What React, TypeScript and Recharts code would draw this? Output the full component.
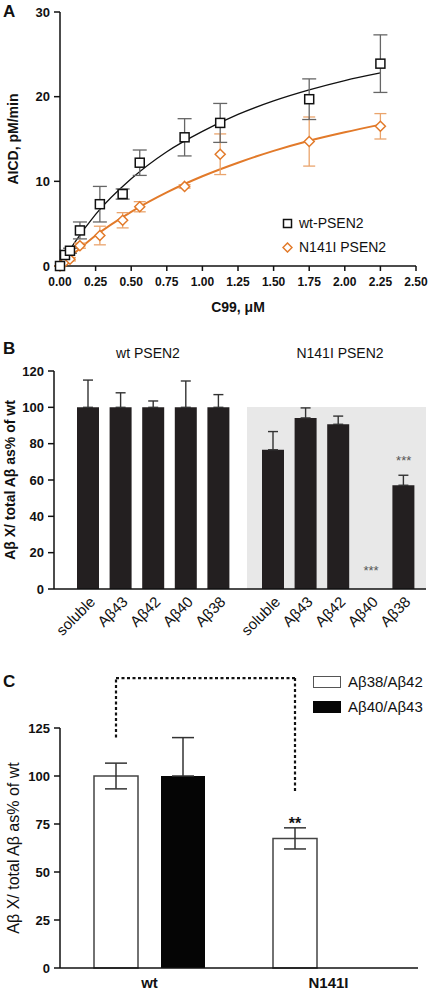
import React from 'react';
import {
  ComposedChart, Scatter, Line, Bar, XAxis, YAxis, ErrorBar, Legend,
  ReferenceLine, ReferenceDot, CartesianGrid,
} from 'recharts';

const FONT = '"Liberation Sans", Arial, Helvetica, sans-serif';
const INK = '#111';
const ORANGE = '#e27a2a';
const ORANGE_LIGHT = '#eaa46c';

// ---------- Panel A: AICD production vs C99 ----------
const c99 = [0, 0.035, 0.07, 0.14, 0.28, 0.44, 0.56, 0.875, 1.125, 1.75, 2.25];
const wtMean = [0, 1.3, 1.8, 4.2, 7.3, 8.5, 12.2, 15.2, 16.9, 19.7, 23.9];
const wtSem = [0, 0, 0.3, 1.0, 2.1, 0.6, 1.5, 2.2, 2.3, 2.4, 3.4];
const mutMean = [0, 0.5, 0.8, 2.4, 3.6, 5.4, 7.0, 9.4, 13.2, 14.7, 16.5];
const mutSem = [0, 0, 0.2, 0.3, 1.1, 0.9, 0.6, 0.2, 2.4, 2.9, 1.5];
const fitX = [0, 0.05, 0.1, 0.25, 0.5, 0.75, 1.0, 1.25, 1.5, 1.75, 2.0, 2.25];
const wtFit = [0, 1.4, 2.7, 6.1, 10.3, 13.5, 15.9, 17.9, 19.5, 20.8, 21.9, 22.8];
const mutFit = [0, 0.8, 1.5, 3.6, 6.4, 8.7, 10.6, 12.2, 13.6, 14.8, 15.8, 16.7];
const aXTicks = [0, 0.25, 0.5, 0.75, 1.0, 1.25, 1.5, 1.75, 2.0, 2.25, 2.5];
const aYTicks = [0, 10, 20, 30];
const aSeries = ['wt-PSEN2', 'N141I PSEN2'];

// ---------- Panel B: Abeta species as % of wt ----------
const bCats = ['soluble', 'Aβ43', 'Aβ42', 'Aβ40', 'Aβ38'];
const bWtVals = [100, 100, 100, 100, 100];
const bWtErr = [15, 8, 3.5, 14.5, 7];
const bMutVals = [76.5, 94, 90.5, 0, 57];
const bMutErr = [10, 5.5, 4.5, null, 5.5];
const bYTicks = [0, 20, 40, 60, 80, 100, 120];
const bGroups = ['wt PSEN2', 'N141I PSEN2'];
const bSig = [
  { cat: 'Aβ40', y: 11.5, text: '***' },
  { cat: 'Aβ38', y: 72, text: '***' },
];

// ---------- Panel C: ratios ----------
const cCats = ['wt', 'N141I'];
const cRatioA = [100, 67.5];
const cRatioAErr = [6.7, 5.5];
const cRatioB = [100, null];
const cRatioBErr = [20, null];
const cSeries = ['Aβ38/Aβ42', 'Aβ40/Aβ43'];
const cYTicks = [0, 25, 50, 75, 100, 125];
// dashed bracket over the first series (Aβ38/Aβ42) of each group
const cBracket = [
  { x: 'wt', y: 120 },
  { x: 'wt', y: 151 },
  { x: 'N141I', y: 151 },
  { x: 'N141I', y: 91 },
];
const cSig = [{ x: 'N141I', y: 77, text: '**' }];

// bar layout for panel C
const C_BAR = 44;
const C_GAP = 23;
const C_FIRST_SHIFT = -(C_BAR + C_GAP) / 2; // centre of first bar relative to category centre

// derived tables
const wtPoints = c99.map((x, i) => ({ x, y: wtMean[i], e: wtSem[i] }));
const mutPoints = c99.map((x, i) => ({ x, y: mutMean[i], e: mutSem[i] }));
const wtFitData = fitX.map((x, i) => ({ x, y: wtFit[i] }));
const mutFitData = fitX.map((x, i) => ({ x, y: mutFit[i] }));
const bWtData = bCats.map((name, i) => ({ name, v: bWtVals[i], err: [0, bWtErr[i]] }));
const bMutData = bCats.map((name, i) => ({
  name,
  v: bMutVals[i],
  err: bMutErr[i] == null ? null : [0, bMutErr[i]],
}));
const cData = cCats.map((name, i) => ({
  name,
  a: cRatioA[i],
  aErr: cRatioAErr[i],
  b: cRatioB[i],
  bErr: cRatioBErr[i] == null ? null : [0, cRatioBErr[i]],
}));

const vTitle = (text: string, dx: number, fontSize: number, fontWeight: string) => ({
  content: (p: any) => {
    const vb = p.viewBox || { x: 0, y: 0, width: 0, height: 0 };
    const cx = vb.x + dx;
    const cy = vb.y + vb.height / 2;
    return (
      <text
        x={cx}
        y={cy}
        transform={`rotate(-90 ${cx} ${cy})`}
        textAnchor="middle"
        dominantBaseline="central"
        fontSize={fontSize}
        fontWeight={fontWeight}
        fontFamily={FONT}
        fill={INK}
      >
        {text}
      </text>
    );
  },
});

const squareShape = (p: any) => (
  <rect x={p.cx - 4.5} y={p.cy - 4.5} width={9} height={9} fill="#fff" stroke={INK} strokeWidth={1.5} />
);
const diamondShape = (p: any) => (
  <path
    d={`M${p.cx},${p.cy - 5} L${p.cx + 5},${p.cy} L${p.cx},${p.cy + 5} L${p.cx - 5},${p.cy} Z`}
    fill="#fff"
    stroke={ORANGE}
    strokeWidth={1.5}
  />
);

const legendA = (props: any) => {
  const items = (props.payload || [])
    .filter((p: any) => aSeries.includes(p.value))
    .sort((a: any, b: any) => aSeries.indexOf(a.value) - aSeries.indexOf(b.value));
  return (
    <div style={{ fontFamily: FONT }}>
      {items.map((p: any) => (
        <div key={p.value} style={{ display: 'flex', alignItems: 'center', height: 24 }}>
          <svg width={11} height={11} style={{ marginRight: 6 }}>
            {p.value === aSeries[0] ? (
              <rect x={1.5} y={1.5} width={8} height={8} fill="#fff" stroke={INK} strokeWidth={1.5} />
            ) : (
              <path d="M5.5,1 L10,5.5 L5.5,10 L1,5.5 Z" fill="#fff" stroke={ORANGE} strokeWidth={1.5} />
            )}
          </svg>
          <span style={{ fontSize: 14, color: INK, whiteSpace: 'nowrap' }}>{p.value}</span>
        </div>
      ))}
    </div>
  );
};

const legendC = (props: any) => (
  <div style={{ fontFamily: FONT }}>
    {(props.payload || []).map((p: any, i: number) => (
      <div key={p.value} style={{ display: 'flex', alignItems: 'center', height: 25 }}>
        <span
          style={{
            display: 'inline-block',
            width: 28,
            height: 12,
            boxSizing: 'border-box',
            background: i === 0 ? '#fff' : '#050505',
            border: i === 0 ? '1.5px solid #555' : '1.5px solid #050505',
          }}
        />
        <span style={{ marginLeft: 7, fontSize: 15, color: INK, whiteSpace: 'nowrap' }}>{p.value}</span>
      </div>
    ))}
  </div>
);

const RotTick = (props: any) => {
  const { x, y, payload } = props;
  return (
    <g transform={`translate(${x + 5},${y + 4})`}>
      <text
        textAnchor="end"
        transform="rotate(-45)"
        dominantBaseline="middle"
        fontSize={15}
        fontFamily={FONT}
        fill={INK}
      >
        {payload.value}
      </text>
    </g>
  );
};

const starShape = (text: string, size: number, color: string, base: number, weight: string, dx = 0) => (p: any) => (
  <text
    x={p.cx + dx}
    y={p.cy + base}
    textAnchor="middle"
    fontSize={size}
    fontFamily={FONT}
    fontWeight={weight}
    fill={color}
  >
    {text}
  </text>
);

const shiftedLine = (dx: number) => (p: any) => (
  <line
    x1={p.x1 + dx}
    y1={p.y1}
    x2={p.x2 + dx}
    y2={p.y2}
    stroke={INK}
    strokeWidth={2.2}
    strokeDasharray="3 2.5"
    fill="none"
  />
);

const panelLetter = (ch: string, top: number) => (
  <div
    style={{
      position: 'absolute',
      left: 3,
      top,
      fontSize: 17,
      lineHeight: '17px',
      fontWeight: 'bold',
      fontFamily: FONT,
      color: INK,
    }}
  >
    {ch}
  </div>
);

const axisStyle = { stroke: INK, strokeWidth: 1.5 };
const boldTick = (size: number) => ({ fontSize: size, fontWeight: 'bold', fill: INK, fontFamily: FONT });

export default function App() {
  return (
    <div style={{ position: 'absolute', left: 0, top: 0, width: 434, height: 999, background: '#fff', overflow: 'hidden' }}>
      {/* Panel A */}
      <div style={{ position: 'absolute', left: 0, top: 0 }}>
        <ComposedChart width={434} height={320} margin={{ top: 12, right: 18, bottom: 0, left: 0 }}>
          <XAxis
            type="number"
            dataKey="x"
            domain={[0, 2.5]}
            ticks={aXTicks}
            interval={0}
            tickFormatter={(v: number) => v.toFixed(2)}
            height={54}
            tickSize={5}
            tickMargin={6}
            axisLine={axisStyle}
            tickLine={axisStyle}
            tick={boldTick(12)}
            label={{ value: 'C99, μM', position: 'insideBottom', offset: 8, fontSize: 14, fontWeight: 'bold', fill: INK, fontFamily: FONT }}
          />
          <YAxis
            type="number"
            domain={[0, 30]}
            ticks={aYTicks}
            width={60}
            tickSize={6}
            tickMargin={4}
            axisLine={axisStyle}
            tickLine={axisStyle}
            tick={boldTick(13)}
            label={vTitle('AICD, pM/min', 13, 14, 'bold')}
          />
          <Line data={wtFitData} dataKey="y" type="monotone" stroke={INK} strokeWidth={1.3} dot={false} isAnimationActive={false} legendType="none" />
          <Line data={mutFitData} dataKey="y" type="monotone" stroke={ORANGE} strokeWidth={2} dot={false} isAnimationActive={false} legendType="none" />
          <Scatter data={mutPoints} dataKey="y" name={aSeries[1]} shape={diamondShape} isAnimationActive={false}>
            <ErrorBar dataKey="e" direction="y" width={6} stroke={ORANGE_LIGHT} strokeWidth={1.3} />
          </Scatter>
          <Scatter data={wtPoints} dataKey="y" name={aSeries[0]} shape={squareShape} isAnimationActive={false}>
            <ErrorBar dataKey="e" direction="y" width={7} stroke="#666" strokeWidth={1.3} />
          </Scatter>
          <Legend
            layout="horizontal"
            align="center"
            verticalAlign="middle"
            content={legendA}
            wrapperStyle={{ left: 282, top: 211, width: 'auto' }}
          />
        </ComposedChart>
      </div>
      {panelLetter('A', 3)}

      {/* Panel B */}
      <div style={{ position: 'absolute', left: 0, top: 320 }}>
        <ComposedChart width={247} height={320} data={bWtData} margin={{ top: 51, right: 0, bottom: 0, left: 0 }}>
          <XAxis
            dataKey="name"
            height={51}
            padding={{ left: 18, right: 12 }}
            interval={0}
            tickSize={5}
            axisLine={axisStyle}
            tickLine={false}
            tick={<RotTick />}
          />
          <YAxis
            domain={[0, 120]}
            ticks={bYTicks}
            width={54}
            tickSize={6}
            tickMargin={4}
            axisLine={axisStyle}
            tickLine={axisStyle}
            tick={boldTick(13)}
            label={vTitle('Aβ X/ total Aβ as% of wt', 10, 14, 'bold')}
          />
          <Bar dataKey="v" fill="#231f20" barSize={22} isAnimationActive={false}>
            <ErrorBar dataKey="err" width={5} stroke="#333" strokeWidth={1.4} />
          </Bar>
        </ComposedChart>
      </div>
      <div style={{ position: 'absolute', left: 200, top: 320 }}>
        <ComposedChart width={234} height={320} data={bMutData} margin={{ top: 87, right: 8, bottom: 0, left: 47 }}>
          <CartesianGrid fill="#e8e8e8" horizontal={false} vertical={false} stroke="none" />
          <XAxis
            dataKey="name"
            height={51}
            padding={{ left: 10, right: 6 }}
            interval={0}
            tickSize={5}
            axisLine={axisStyle}
            tickLine={false}
            tick={<RotTick />}
          />
          <YAxis hide domain={[0, 100]} />
          <Bar dataKey="v" fill="#231f20" barSize={22} isAnimationActive={false}>
            <ErrorBar dataKey="err" width={5} stroke="#333" strokeWidth={1.4} />
          </Bar>
          {bSig.map((s) => (
            <ReferenceDot key={s.cat} x={s.cat} y={s.y} r={0} shape={starShape(s.text, 13, '#555', 7, 'normal')} />
          ))}
        </ComposedChart>
      </div>
      {panelLetter('B', 340)}
      {bGroups.map((g, i) => (
        <div
          key={g}
          style={{
            position: 'absolute',
            left: (i === 0 ? 148 : 340) - 80,
            width: 160,
            top: 346,
            textAlign: 'center',
            fontSize: 14,
            lineHeight: '14px',
            fontFamily: FONT,
            color: INK,
          }}
        >
          {g}
        </div>
      ))}

      {/* Panel C */}
      <div style={{ position: 'absolute', left: 0, top: 640 }}>
        <ComposedChart width={434} height={359} data={cData} barGap={C_GAP} margin={{ top: 88, right: 16, bottom: 0, left: 0 }}>
          <XAxis
            dataKey="name"
            height={31}
            tickSize={5}
            tickMargin={4}
            axisLine={axisStyle}
            tickLine={false}
            tick={boldTick(15)}
          />
          <YAxis
            domain={[0, 125]}
            ticks={cYTicks}
            width={60}
            tickSize={6}
            tickMargin={4}
            axisLine={axisStyle}
            tickLine={axisStyle}
            tick={boldTick(13)}
            label={vTitle('Aβ X/ total Aβ as% of wt', 13, 16, 'normal')}
          />
          <Bar dataKey="a" name={cSeries[0]} fill="#fff" stroke="#444" strokeWidth={1.5} barSize={C_BAR} isAnimationActive={false}>
            <ErrorBar dataKey="aErr" width={11} stroke="#333" strokeWidth={1.5} />
          </Bar>
          <Bar dataKey="b" name={cSeries[1]} fill="#050505" barSize={C_BAR} isAnimationActive={false}>
            <ErrorBar dataKey="bErr" width={11} stroke="#333" strokeWidth={1.5} />
          </Bar>
          {cBracket.slice(1).map((p, i) => (
            <ReferenceLine
              key={i}
              segment={[cBracket[i], p]}
              ifOverflow="visible"
              stroke={INK}
              strokeWidth={2.2}
              strokeDasharray="3 2.5"
              shape={shiftedLine(C_FIRST_SHIFT)}
            />
          ))}
          {cSig.map((s, i) => (
            <ReferenceDot key={i} x={s.x} y={s.y} r={0} shape={starShape(s.text, 16, INK, 9, 'bold', C_FIRST_SHIFT)} />
          ))}
          <Legend
            layout="horizontal"
            align="center"
            verticalAlign="middle"
            content={legendC}
            wrapperStyle={{ left: 313, top: 29, width: 'auto' }}
          />
        </ComposedChart>
      </div>
      {panelLetter('C', 673)}
    </div>
  );
}
